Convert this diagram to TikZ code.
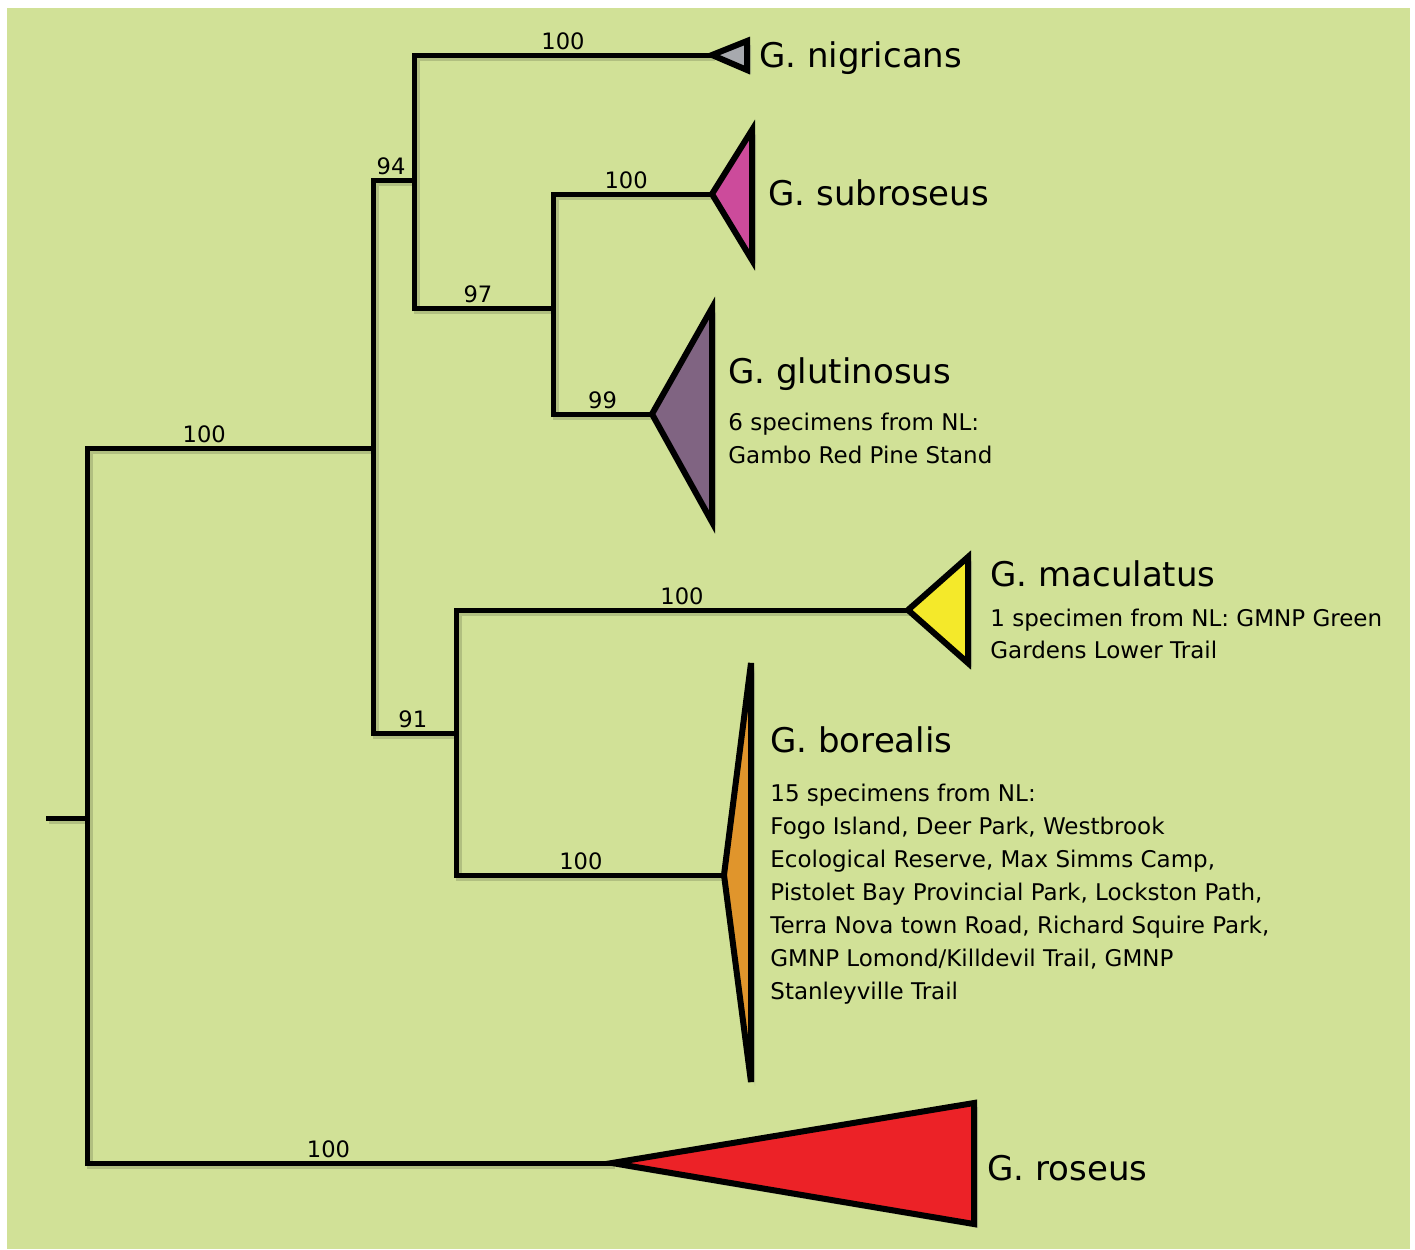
\documentclass[tikz,border=0pt]{standalone}
\usepackage{fontspec}
\setmainfont{DejaVu Sans}
\usetikzlibrary{shadows}

\definecolor{bgGreen}{HTML}{D1E197}
\definecolor{cladeGray}{HTML}{A7A9AE}
\definecolor{cladeMagenta}{HTML}{CC4B9B}
\definecolor{cladePurple}{HTML}{806482}
\definecolor{cladeYellow}{HTML}{F4E92A}
\definecolor{cladeOrange}{HTML}{E0952C}
\definecolor{cladeRed}{HTML}{EC2227}

\tikzset{
  branch/.style={line width=2.5pt, preaction={draw=black, opacity=.15, line width=3pt, transform canvas={xshift=1.5pt, yshift=-1.5pt}}},
  clade/.style={draw=black, line width=3pt, drop shadow={opacity=.3, shadow xshift=2pt, shadow yshift=-2pt}},
  support/.style={font=\fontsize{11.3}{13}\selectfont, above, inner sep=1.2pt},
  taxon/.style={font=\fontsize{17}{20}\selectfont, anchor=base west, inner sep=0pt},
  info/.style={font=\fontsize{11.5}{16.5}\selectfont, anchor=base west, inner sep=0pt}
}

\begin{document}
\begin{tikzpicture}[x=0.5pt, y=-0.5pt]
    % Background panel
    \useasboundingbox (0,0) rectangle (1415,1249);
    \fill[bgGreen] (7,8) rectangle (1410,1249);

    % Internal nodes of the tree
    \coordinate (stub) at (46,818);
    \coordinate (root) at (87,818);
    \coordinate (n1) at (373,448);
    \coordinate (n2) at (414,180);
    \coordinate (n3) at (553,308);
    \coordinate (n4) at (456,733);

    % Tips of the collapsed clades
    \coordinate (nig) at (712,55);
    \coordinate (sub) at (712,194);
    \coordinate (glu) at (652,414);
    \coordinate (mac) at (908,610);
    \coordinate (bor) at (724,875);
    \coordinate (ros) at (612,1163);

    % Branches with support values
    \draw[branch] (stub) -- (root);
    \foreach \a/\b/\s/\p in {root/n1/100/0.705, root/ros/100/0.73, n1/n2/94/0.72, n1/n4/91/0.74,
                             n2/nig/100/0.75, n2/n3/97/0.73, n3/sub/100/0.73, n3/glu/99/0.75,
                             n4/mac/100/0.75, n4/bor/100/0.733} {
      \draw[branch] (\a) |- (\b) node[support, pos=\p] {\s};
    }

    % Collapsed clades
    \foreach \t/\rx/\top/\bot/\c in {nig/747/41/70/cladeGray, sub/752/130/260/cladeMagenta,
                                     glu/712/308/522/cladePurple, mac/968/557/663/cladeYellow,
                                     bor/751/663/1082/cladeOrange, ros/974/1103/1224/cladeRed} {
      \filldraw[clade, fill=\c] (\t) -- (\rx,\top) -- (\rx,\bot) -- cycle;
    }

    % Species names
    \foreach \n/\x/\y/\t in {nig/759/67/G. nigricans, sub/768/205/G. subroseus, glu/728/383/G. glutinosus,
                             mac/990/586/G. maculatus, bor/770/752/G. borealis, ros/987/1180/G. roseus} {
      \node[taxon] (name-\n) at (\x,\y) {\t};
    }

    % Specimen notes
    \foreach \t [count=\i] in {6 specimens from NL:, Gambo Red Pine Stand} {
      \node[info] (glu-note-\i) at (728,{397+33*\i}) {\t};
    }
    \foreach \t [count=\i] in {1 specimen from NL: GMNP Green, Gardens Lower Trail} {
      \node[info] (mac-note-\i) at (990,{594+32*\i}) {\t};
    }
    \foreach \t [count=\i] in {15 specimens from NL:, {Fogo Island, Deer Park, Westbrook},
                               {Ecological Reserve, Max Simms Camp,},
                               {Pistolet Bay Provincial Park, Lockston Path,},
                               {Terra Nova town Road, Richard Squire Park,},
                               {GMNP Lomond/Killdevil Trail, GMNP}, Stanleyville Trail} {
      \node[info] (bor-note-\i) at (770,{768+33*\i}) {\t};
    }
\end{tikzpicture}
\end{document}
